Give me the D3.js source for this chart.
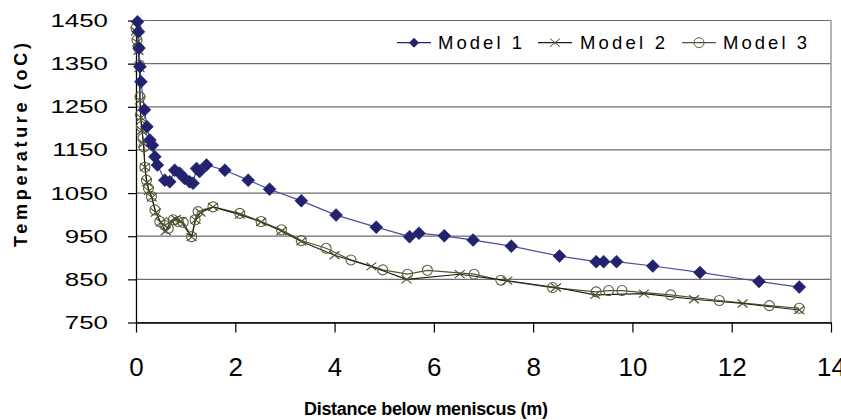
<!DOCTYPE html>
<html>
<head>
<meta charset="utf-8">
<script src="https://cdn.jsdelivr.net/npm/d3@7"></script>
<style>
  html, body { margin: 0; padding: 0; background: #fff; }
  svg { display: block; font-family: "Liberation Sans", Arial, sans-serif; }
</style>
</head>
<body>
<div id="chart"></div>
<script>
// Model 1 (diamonds)
const model1X = [0.03, 0.05, 0.06, 0.08, 0.10, 0.17, 0.22, 0.28, 0.33, 0.38, 0.43, 0.58, 0.68, 0.78, 0.88, 0.98, 1.08, 1.15, 1.22, 1.28, 1.42, 1.79, 2.26, 2.69, 3.33, 4.03, 4.84, 5.51, 5.70, 6.21, 6.79, 7.56, 8.53, 9.27, 9.42, 9.68, 10.41, 11.36, 12.55, 13.36];
const model1T = [1447, 1424, 1386, 1343, 1308, 1243, 1204, 1173, 1161, 1134, 1115, 1080, 1076, 1103, 1096, 1084, 1076, 1073, 1107, 1100, 1115, 1103, 1080, 1059, 1032, 999, 971, 949, 957, 951, 941, 927, 904, 891, 891, 891, 881, 866, 845, 832];

// Model 2 (crosses)
const model2X = [0.00, 0.02, 0.05, 0.07, 0.08, 0.10, 0.12, 0.15, 0.18, 0.22, 0.26, 0.32, 0.40, 0.50, 0.60, 0.70, 0.80, 0.90, 1.12, 1.20, 1.30, 1.55, 2.09, 2.52, 2.93, 3.33, 4.00, 4.74, 5.45, 6.52, 7.48, 8.46, 9.25, 10.23, 11.24, 12.22, 13.36];
const model2T = [1425, 1400, 1380, 1340, 1265, 1225, 1195, 1165, 1110, 1075, 1055, 1040, 1005, 982, 962, 985, 990, 985, 948, 988, 1005, 1018, 1000, 983, 962, 938, 906, 880, 850, 862, 847, 831, 814, 817, 804, 794, 779];

// Model 3 (open circles)
const model3X = [0.00, 0.02, 0.05, 0.07, 0.08, 0.09, 0.11, 0.14, 0.16, 0.18, 0.21, 0.25, 0.31, 0.38, 0.48, 0.58, 0.65, 0.75, 0.85, 0.95, 1.12, 1.19, 1.25, 1.55, 2.09, 2.52, 2.93, 3.33, 3.83, 4.33, 4.97, 5.47, 5.87, 6.81, 7.35, 8.39, 9.27, 9.52, 9.79, 10.77, 11.75, 12.76, 13.36];
const model3T = [1432, 1405, 1386, 1347, 1273, 1231, 1204, 1177, 1157, 1110, 1080, 1061, 1042, 1011, 984, 975, 968, 988, 984, 982, 949, 988, 1007, 1018, 1003, 984, 965, 940, 922, 895, 872, 862, 871, 862, 848, 831, 821, 824, 824, 814, 801, 789, 783];

const xTicks = [0, 2, 4, 6, 8, 10, 12, 14];
const yTicks = [750, 850, 950, 1050, 1150, 1250, 1350, 1450];
const seriesNames = ["Model 1", "Model 2", "Model 3"];

const width = 841, height = 420;
const plot = { left: 136, right: 831, top: 20.5, bottom: 322.5 };

const svg = d3.select("#chart").append("svg")
  .attr("width", width)
  .attr("height", height);

const x = d3.scaleLinear().domain([0, 14]).range([plot.left, plot.right]);
const y = d3.scaleLinear().domain([750, 1450]).range([plot.bottom, plot.top]);

// gridlines
svg.append("g")
  .selectAll("line")
  .data(yTicks)
  .join("line")
  .attr("x1", plot.left).attr("x2", plot.right)
  .attr("y1", d => y(d)).attr("y2", d => y(d))
  .attr("stroke", "#6e6e6e")
  .attr("stroke-width", 1.2);

// right border
svg.append("line")
  .attr("x1", plot.right).attr("x2", plot.right)
  .attr("y1", plot.top).attr("y2", plot.bottom)
  .attr("stroke", "#999").attr("stroke-width", 1.5);

// x axis
const xAxisG = svg.append("g")
  .attr("transform", `translate(0,${plot.bottom})`)
  .call(d3.axisBottom(x).tickValues(xTicks).tickSize(10).tickSizeOuter(0).tickPadding(25));
xAxisG.select(".domain").attr("stroke", "#000").attr("stroke-width", 1.3);
xAxisG.selectAll(".tick line").attr("stroke", "#000").attr("stroke-width", 1.2);
xAxisG.selectAll(".tick text")
  .attr("font-size", 26)
  .attr("font-family", "Liberation Sans, Arial, sans-serif")
  .attr("fill", "#000");

// y axis
const yAxisG = svg.append("g")
  .attr("transform", `translate(${plot.left},0)`)
  .call(d3.axisLeft(y).tickValues(yTicks).tickSize(8).tickSizeOuter(0).tickFormat(""));
yAxisG.select(".domain").attr("stroke", "#000").attr("stroke-width", 1.3);
yAxisG.selectAll(".tick line").attr("stroke", "#000").attr("stroke-width", 1.2);

// y tick labels, drawn wide like the reference
svg.append("g")
  .selectAll("text")
  .data(yTicks)
  .join("text")
  .attr("transform", d => `translate(108,${y(d) + 6.5}) scale(1.4,1)`)
  .attr("text-anchor", "end")
  .attr("font-size", 18.5)
  .attr("fill", "#000")
  .text(d => d);

// axis titles
svg.append("text")
  .attr("x", 304)
  .attr("y", 415)
  .attr("font-size", 18)
  .attr("font-weight", "bold")
  .attr("textLength", 244)
  .attr("lengthAdjust", "spacing")
  .text("Distance below meniscus (m)");

svg.append("text")
  .attr("transform", "translate(27,247) rotate(-90)")
  .attr("font-size", 18)
  .attr("font-weight", "bold")
  .attr("textLength", 204)
  .attr("lengthAdjust", "spacing")
  .text("Temperature (oC)");

// markers
const diamond = "M0,-6.5L6.5,0L0,6.5L-6.5,0Z";
const cross = "M-5,-4L5,4M-5,4L5,-4";

const line = d3.line().x(d => x(d[0])).y(d => y(d[1]));

const s1 = model1X.map((v, i) => [v, model1T[i]]);
const s2 = model2X.map((v, i) => [v, model2T[i]]);
const s3 = model3X.map((v, i) => [v, model3T[i]]);

const M1 = "#22226e", M1L = "#4c4c9c";
const M2 = "#4e4e2c", M2L = "#1e1e12";
const M3 = "#5e5e3e", M3L = "#52523a";

svg.append("path").datum(s3).attr("d", line)
  .attr("fill", "none").attr("stroke", M3L).attr("stroke-width", 1.2);
svg.append("path").datum(s2).attr("d", line)
  .attr("fill", "none").attr("stroke", M2L).attr("stroke-width", 1.1);
svg.append("path").datum(s1).attr("d", line)
  .attr("fill", "none").attr("stroke", M1L).attr("stroke-width", 1.2);

svg.append("g").selectAll("circle")
  .data(s3).join("circle")
  .attr("cx", d => x(d[0])).attr("cy", d => y(d[1]))
  .attr("r", 5)
  .attr("fill", "none").attr("stroke", M3).attr("stroke-width", 1.1);

svg.append("g").selectAll("path")
  .data(s2).join("path")
  .attr("transform", d => `translate(${x(d[0])},${y(d[1])})`)
  .attr("d", cross)
  .attr("fill", "none").attr("stroke", M2).attr("stroke-width", 1.1);

svg.append("g").selectAll("path")
  .data(s1).join("path")
  .attr("transform", d => `translate(${x(d[0])},${y(d[1])})`)
  .attr("d", diamond)
  .attr("fill", M1).attr("stroke", M1).attr("stroke-width", 0.5);

// legend
const legendItems = [
  { name: seriesNames[0], lx: 397, tx: 438, tl: 84, kind: "diamond", color: M1, lineColor: M1 },
  { name: seriesNames[1], lx: 538, tx: 580, tl: 85, kind: "cross", color: M2, lineColor: M2L },
  { name: seriesNames[2], lx: 682, tx: 723, tl: 84, kind: "circle", color: M3, lineColor: M3L }
];
const ly = 42.7;
const leg = svg.append("g").selectAll("g").data(legendItems).join("g");
leg.append("line")
  .attr("x1", d => d.lx).attr("x2", d => d.lx + 34)
  .attr("y1", ly).attr("y2", ly)
  .attr("stroke", d => d.lineColor).attr("stroke-width", 1.2);
leg.each(function (d) {
  const g = d3.select(this);
  const cx = d.lx + 17;
  if (d.kind === "diamond") {
    g.append("path").attr("transform", `translate(${cx},${ly})`)
      .attr("d", "M0,-5L5,0L0,5L-5,0Z").attr("fill", d.color);
  } else if (d.kind === "cross") {
    g.append("path").attr("transform", `translate(${cx},${ly})`)
      .attr("d", "M-5,-4L5,4M-5,4L5,-4").attr("fill", "none")
      .attr("stroke", d.color).attr("stroke-width", 1);
  } else {
    g.append("circle").attr("cx", cx).attr("cy", ly).attr("r", 5)
      .attr("fill", "none").attr("stroke", d.color).attr("stroke-width", 1);
  }
});
leg.append("text")
  .attr("x", d => d.tx).attr("y", ly + 6.5)
  .attr("font-size", 18.5)
  .attr("textLength", d => d.tl)
  .attr("lengthAdjust", "spacing")
  .attr("fill", "#000")
  .text(d => d.name);
</script>
</body>
</html>
